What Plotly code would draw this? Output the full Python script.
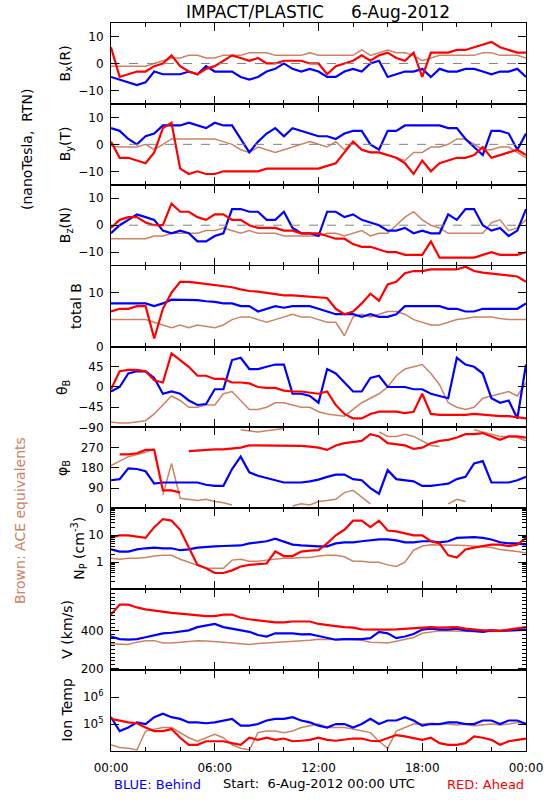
import plotly.graph_objects as go
from plotly.subplots import make_subplots

# ---------------- data (half-hour samples, 6-Aug-2012 00:00 .. 24:00 UTC) ----------------
HOURS = [0.5 * i for i in range(49)]
X_TICKS = [0, 6, 12, 18, 24]
X_TICK_LABELS = ["00:00", "06:00", "12:00", "18:00", "00:00"]

BX_BLUE = [-5, -6, -7, -8, -7, -3, -4, -4, -4, -3,
           -4, -1, -3, -3, -3, -5, -6, -5, -3, -2,
           0, -2, -3, -2, -3, -5, -5, -3, -2, -3,
           0, 1, -5, -4, -3, -3, -2, -5, -2, -3,
           -3, -2, -2, -3, -4, -3, -3, -2, -5]
BX_RED = [6, -5, -4, -3, -3, -1, 0, 3, -1, -3,
          -4, -2, -1, 1, 3, 2, 1, 2, 0, 0,
          1, 1, 1, 0, 0, -4, -1, 0, 1, 3,
          1, 3, 4, 2, 1, 4, -5, 4, 4, 4,
          5, 5, 6, 7, 8, 6, 5, 4, 4]
BX_BROWN = [-1, -1, -1, -1, -1, 0, 1, 2, 2, 3,
            3, 2, 2, 3, 3, 3, 4, 4, 4, 3,
            3, 3, 3, 4, 3, 3, 3, 3, 3, 5,
            3, 4, 5, 4, 4, 3, 1, 2, 3, 3,
            3, 3, 3, 4, 4, 3, 3, 3, 2]

BY_BLUE = [6, 5, 2, 0, 3, 4, 7, 7, 7, 8,
           7, 6, 8, 7, 7, 2, -3, 1, 4, 6,
           3, 6, 5, 4, 3, 3, 2, 4, 5, 5,
           0, -2, 5, 5, 7, 7, 7, 7, 7, 6,
           6, 2, -1, -4, 5, 5, 4, -2, 4]
BY_RED = [1, -5, -5, -6, -7, -3, 6, 8, -9, -11,
          -10, -11, -11, -10, -10, -10, -10, -10, -9, -9,
          -9, -9, -9, -9, -9, -8, -7, -3, 1, -2,
          -3, -3, -4, -5, -7, -11, -6, -10, -7, -6,
          -5, -5, -4, -1, -5, -4, -3, -2, -4]
BY_BROWN = [-0.5, -1, -1, -1, 0, -2, 0, 2, 2, 2,
            2, 2, 2, 1, 0, -2, -3, -1, -2, -3,
            -2, -1, 0, 1, 0, -1, 1, -2, 1, -2,
            -3, -3, -4, -5, -6, -3, -3, -1, -1, 0,
            2, 2, 0, -2, -2, -1, -1, -3, -5]

BZ_BLUE = [-3, 0, 2, 4, 3, 2, -2, -3, -2, -3,
           -6, -6, -4, -3, 6, 6, 5, 5, 2, 2,
           5, -1, -3, -3, -4, 5, 5, 3, 4, 2,
           1, 0, -2, -2, -1, -3, -2, -3, -3, 4,
           2, 6, 6, 0, -2, -1, -4, -2, 6]
BZ_RED = [-1, 2, 3, 3, 1, 0, 0, 8, 5, 5,
          3, 2, 4, 4, 2, 2, 0, -1, -1, -1,
          -2, -2, -3, -3, -3, -4, -5, -5, -7, -8,
          -8, -9, -10, -10, -11, -11, -11, -6, -12, -12,
          -12, -12, -12, -11, -10, -11, -11, -11, -10]
BZ_BROWN = [-5, -5, -5, -5, -5, -4, -4, -3, -3, -3,
            -3, -2, -2, -1, -2, -3, -2, -3, -3, -3,
            -4, -4, -4, -4, -4, -3, -3, -4, -3, -2,
            -4, -3, -3, 0, 3, 5, 2, 0, -1, -3,
            -3, -3, -3, -3, 1, 2, -2, -1, 2]

TOTB_BLUE = [8, 8, 8, 8, 8, 7.5, 8, 8.7, 8.7, 8.6,
             8.6, 8.4, 8.3, 8, 8, 7.5, 7.5, 6.5, 7, 7.5,
             7.2, 7.5, 7.5, 7.5, 7, 6.5, 6, 6, 6, 5.5,
             6, 5.5, 5.5, 6, 7.5, 7.5, 7.5, 7.5, 7.5, 7,
             7, 6.5, 6.5, 7, 7, 7, 7, 7, 8]
TOTB_RED = [6.5, 7, 7, 7.5, 7.5, 1.5, 7, 10, 12, 12,
            11.8, 11.6, 11.5, 11.3, 11, 10.6, 10.3, 10.2, 10, 9.7,
            9.5, 9.5, 9.4, 9.3, 9.2, 9, 7, 6, 6.5, 8,
            9.8, 8.5, 11.5, 12, 13.6, 14, 14, 14.3, 14.3, 14.3,
            14.3, 14.8, 14, 13.7, 13.5, 13.3, 13.2, 13, 12]
TOTB_BROWN = [5, 5, 5, 5, 5, 4.5, 4, 3.5, 4, 3.5,
              4, 3.8, 3.5, 4, 5, 5.5, 5.5, 5, 4.5, 5,
              5.5, 6, 5.5, 5.5, 5, 4.5, 4.5, 2, 5.5, 6,
              5.5, 6, 6.5, 6.5, 6, 5, 4.5, 4, 4, 4.5,
              5, 5.2, 5.5, 5.5, 5.5, 5.2, 5, 5, 5]

THETA_BLUE = [-10, 0, 30, 35, 35, 20, -15, -10, -15, -30,
              -40, -38, -5, -5, 60, 65, 40, 40, 45, 50,
              50, -15, -15, -20, -35, 40, 30, 10, -10, -10,
              20, 25, 0, 0, 0, -5, -5, -15, -20, -25,
              65, 50, 45, 30, -25, -35, -30, -70, 50]
THETA_RED = [-5, 35, 38, 38, 35, 15, 10, 75, 60, 45,
             25, 25, 18, 18, 10, 10, 8, 0, -2, -2,
             -8, -10, -10, -12, -15, -10, -40, -60, -70, -70,
             -60, -55, -55, -55, -58, -55, -15, -60, -62, -62,
             -62, -62, -60, -62, -63, -65, -65, -68, -70]
THETA_BROWN = [-78, -80, -80, -78, -75, -60, -40, -20, -30, -45,
               -45, -40, -40, -15, -10, -30, -50, -50, -45, -35,
               -35, -40, -45, -45, -55, -60, -62, -65, -50, -35,
               -25, -15, 0, 25, 40, 45, 50, 30, 5, -35,
               -45, -50, -45, -25, -20, -15, -10, -20, 10]

PHI_BLUE = [125, 130, 178, 175, 165, 110, 115, 115, 115, 115,
            115, 105, 100, 100, 175, 230, 160, 145, 135, 125,
            115, 115, 115, 120, 128, 140, 150, 150, 130, 125,
            90, 65, 170, 130, 125, 120, 100, 100, 105, 110,
            130, 140, 200, 210, 115, 115, 115, 125, 140]
PHI_RED = [30, 240, 240, 245, 260, 260, 80, 80, 70, 255,
           258, 260, 262, 262, 265, 270, 280, 280, 280, 280,
           280, 278, 278, 275, 270, 260, 280, 290, 295, 300,
           330, 320, 290, 285, 280, 265, 270, 290, 300, 305,
           315, 330, 330, 335, 320, 305, 320, 320, 315]
PHI_BROWN = [190, 210, 230, 240, 250, 265, 60, 200, 45, 40,
             35, 40, 30, 25, 15, 350, 345, 340, 345, 350,
             355, 10, 20, 15, 30, 35, 40, 70, 80, 50,
             20, 340, 320, 320, 330, 320, 300, 280, 275, 20,
             40, 30, 350, 340, 330, 320, 320, 315, 300]

NP_BLUE = [3, 2.5, 2.5, 3, 3.3, 3.5, 3.3, 3.3, 2.8, 3,
           3.5, 3.8, 3.9, 4, 4, 4.2, 5, 5.5, 6, 7.5,
           6, 4.5, 4.2, 4, 3.9, 3.9, 5, 5.5, 5.5, 6,
           6.5, 7, 7, 6.5, 5.5, 5.5, 6, 6, 5.5, 6,
           8, 8.5, 8.5, 8, 7, 5.5, 5, 5, 4.5]
NP_RED = [8, 10, 10, 9, 8, 20, 40, 35, 16, 3.5,
          0.8, 0.6, 0.4, 0.4, 0.5, 0.7, 0.8, 0.85, 0.9, 2.5,
          1.7, 1.7, 2.5, 2.7, 2.8, 5, 10, 16, 35, 35,
          20, 35, 15, 14, 12, 10, 10, 6, 5, 1.8,
          1.5, 3, 3.5, 4, 4.5, 4.5, 4, 4.5, 8]
NP_BROWN = [1.4, 1.3, 1.4, 1.4, 1.5, 1.7, 1.8, 1.8, 1.3, 1.0,
            0.8, 0.6, 0.6, 0.6, 1.2, 1.3, 1.1, 1.1, 1.2, 1.3,
            1.4, 1.4, 1.5, 1.5, 1.7, 1.8, 1.8, 1.6, 1.1, 1.1,
            1.0, 1.0, 0.8, 0.7, 1.0, 2.8, 4, 4.5, 4.5, 4.5,
            4.3, 4.2, 4, 3.8, 3.5, 3, 2.8, 2.5, 2.2]

V_BLUE = [370, 356, 353, 356, 366, 378, 387, 390, 395, 403,
          420, 429, 437, 420, 412, 407, 395, 378, 370, 387,
          387, 387, 381, 383, 373, 361, 353, 356, 356, 356,
          361, 395, 387, 361, 370, 383, 407, 412, 407, 407,
          412, 403, 400, 395, 403, 400, 403, 403, 407]
V_RED = [487, 540, 540, 525, 515, 508, 500, 496, 492, 487,
         482, 479, 479, 487, 487, 470, 462, 457, 450, 445,
         445, 450, 450, 450, 437, 429, 425, 420, 417, 408,
         407, 407, 407, 408, 412, 412, 420, 420, 417, 420,
         420, 412, 407, 403, 403, 400, 407, 412, 420]
V_BROWN = [331, 330, 328, 340, 348, 348, 336, 336, 340, 345,
           348, 346, 345, 340, 336, 332, 328, 333, 336, 338,
           340, 342, 345, 350, 356, 356, 356, 355, 353, 350,
           340, 338, 336, 345, 356, 365, 387, 395, 400, 400,
           400, 398, 395, 395, 395, 398, 400, 402, 403]

TEMP_BLUE = [1.8e5, 5.5e4, 7.4e4, 1.15e5, 1.0e5, 1.8e5, 2.4e5, 1.8e5, 1.55e5, 1.15e5,
             1.15e5, 1.07e5, 1.15e5, 1.35e5, 1.55e5, 8.7e4, 8.7e4, 1.0e5, 1.35e5, 1.55e5,
             1.55e5, 1.8e5, 1.35e5, 1.15e5, 8.7e4, 7.4e4, 1.0e5, 1.0e5, 7.4e4, 1.0e5,
             1.55e5, 1.0e5, 1.35e5, 1.35e5, 1.8e5, 1.35e5, 8.7e4, 1.0e5, 1.0e5, 1.15e5,
             1.15e5, 1.0e5, 1.0e5, 1.35e5, 1.35e5, 1.0e5, 1.35e5, 1.35e5, 1.0e5]
TEMP_RED = [1.55e5, 1.35e5, 1.15e5, 1.07e5, 7.4e4, 5.5e4, 5.5e4, 6.5e4, 3.1e4, 1.7e4,
            1.7e4, 2.3e4, 2.3e4, 2.3e4, 1.95e4, 1.7e4, 3.1e4, 2.6e4, 3.1e4, 2.6e4,
            2.9e4, 2.3e4, 2.4e4, 2.6e4, 3.1e4, 2.6e4, 2.4e4, 2.6e4, 2.9e4, 2.9e4,
            2.4e4, 2.3e4, 3.1e4, 3.9e4, 3.5e4, 3.1e4, 2.6e4, 3.1e4, 1.95e4, 1.7e4,
            1.7e4, 1.95e4, 3.5e4, 3.1e4, 2.6e4, 1.7e4, 2.3e4, 2.6e4, 2.9e4]
TEMP_BROWN = [1.7e4, 1.35e4, 1.26e4, 1.1e4, 5.5e4, 6.5e4, 7.4e4, 7.4e4, 4.8e4, 3.1e4,
              2.3e4, 3.1e4, 4.2e4, 3.1e4, 1.7e4, 1.26e4, 1.1e4, 4.8e4, 5.5e4, 5.5e4,
              4.8e4, 5.5e4, 7.4e4, 8.7e4, 1.0e5, 7.4e4, 7.4e4, 7.4e4, 6.5e4, 5.5e4,
              4.8e4, 2.3e4, 1.26e4, 5.5e4, 7.4e4, 1.0e5, 1.0e5, 1.07e5, 1.0e5, 1.0e5,
              9.3e4, 1.0e5, 8.7e4, 9.3e4, 1.0e5, 9.3e4, 1.0e5, 1.15e5, 9.3e4]

# ---------------- styling ----------------
BLUE = "#0000FF"
RED = "#FF0000"
BROWN = "#CD8264"
FONT = "DejaVu Sans"

# plot-area edges in page pixels (page body margin is removed below)
L_PX, R_PX, T_PX, B_PX = 111, 526, 23, 751
W, H = 550, 800


def px_to_paper_x(px):
    return (px - L_PX) / (R_PX - L_PX)


def px_to_paper_y(py):
    return (B_PX - py) / (B_PX - T_PX)


def split_wrap(x, y, limit=180):
    xs, ys = [], []
    for i, (a, b) in enumerate(zip(x, y)):
        if i and abs(b - y[i - 1]) > limit:
            xs.append(None)
            ys.append(None)
        xs.append(a)
        ys.append(b)
    return xs, ys


def log_minor(lo, hi):
    vals = []
    d = 10.0 ** lo
    while d < 10.0 ** hi:
        for m in range(2, 10):
            vals.append(m * d)
        d *= 10
    return vals


PANELS = [
    dict(series=(BX_BROWN, BX_BLUE, BX_RED), range=[-15, 15], tickvals=[-10, 0, 10],
         zero=True, label="B<sub>x</sub>(R)", lx=66),
    dict(series=(BY_BROWN, BY_BLUE, BY_RED), range=[-15, 15], tickvals=[-10, 0, 10],
         zero=True, label="B<sub>y</sub>(T)", lx=66),
    dict(series=(BZ_BROWN, BZ_BLUE, BZ_RED), range=[-15, 15], tickvals=[-10, 0, 10],
         zero=True, label="B<sub>z</sub>(N)", lx=66),
    dict(series=(TOTB_BROWN, TOTB_BLUE, TOTB_RED), range=[0, 15], tickvals=[0, 10],
         label="total B", lx=76),
    dict(series=(THETA_BROWN, THETA_BLUE, THETA_RED), range=[-90, 90],
         tickvals=[-90, -45, 0, 45], label="θ<sub>B</sub>", lx=63),
    dict(series=(PHI_BROWN, PHI_BLUE, PHI_RED), range=[0, 360],
         tickvals=[0, 90, 180, 270], label="φ<sub>B</sub>", lx=63, wrap=True),
    dict(series=(NP_BROWN, NP_BLUE, NP_RED), range=[-1, 2], log=True,
         tickvals=[1, 10], ticktext=["1", "10"], minor=log_minor(-1, 2),
         label="N<sub>P</sub> (cm<sup>-3</sup>)", lx=79),
    dict(series=(V_BROWN, V_BLUE, V_RED), range=[191, 622], tickvals=[200, 400],
         minor=[v for v in range(200, 621, 20) if v not in (200, 400)],
         label="V (km/s)", lx=67),
    dict(series=(TEMP_BROWN, TEMP_BLUE, TEMP_RED), range=[4, 7], log=True,
         tickvals=[1e5, 1e6], ticktext=["10<sup>5</sup>", "10<sup>6</sup>"],
         label="Ion Temp", lx=67),
]

N = len(PANELS)
fig = make_subplots(rows=N, cols=1, shared_xaxes=True, vertical_spacing=0)

for r, p in enumerate(PANELS, start=1):
    brown, blue, red = p["series"]
    for ys, col, wd in ((brown, BROWN, 1.5), (blue, BLUE, 2.2), (red, RED, 2.2)):
        if p.get("wrap"):
            xx, yy = split_wrap(HOURS, ys)
        else:
            xx, yy = HOURS, ys
        fig.add_trace(go.Scatter(x=xx, y=yy, mode="lines", connectgaps=False,
                                 line=dict(color=col, width=wd), showlegend=False,
                                 hoverinfo="skip"), row=r, col=1)
    if p.get("zero"):
        fig.add_trace(go.Scatter(x=[0, 24], y=[0, 0], mode="lines",
                                 line=dict(color="#808080", width=1, dash="dash"),
                                 showlegend=False, hoverinfo="skip"), row=r, col=1)

    yax = dict(range=p["range"], tickmode="array", tickvals=p["tickvals"],
               ticks="inside", ticklen=8, tickwidth=1, tickcolor="black",
               showline=True, linecolor="black", linewidth=1, mirror="allticks",
               showgrid=False, zeroline=False, ticklabelstandoff=4,
               tickfont=dict(family=FONT, size=12, color="black"))
    if p.get("log"):
        yax["type"] = "log"
    if "ticktext" in p:
        yax["ticktext"] = p["ticktext"]
    if "minor" in p:
        yax["minor"] = dict(tickmode="array", tickvals=p["minor"], ticks="inside",
                            ticklen=4, tickcolor="black", showgrid=False)
    fig.update_yaxes(row=r, col=1, **yax)

    fig.update_xaxes(row=r, col=1, range=[0, 24], tickmode="array", tickvals=X_TICKS,
                     ticktext=X_TICK_LABELS, ticks="inside", ticklen=8, tickwidth=1,
                     tickcolor="black", showline=True, linecolor="black", linewidth=1,
                     mirror="allticks", showgrid=False, zeroline=False,
                     minor=dict(tickmode="array", tickvals=[2, 4, 8, 10, 14, 16, 20, 22],
                                ticks="inside", ticklen=4, tickcolor="black",
                                showgrid=False),
                     showticklabels=(r == N), ticklabelstandoff=6,
                     tickfont=dict(family=FONT, size=12, color="black"))

    yc = (N - r + 0.5) / N
    fig.add_annotation(text=p["label"], xref="paper", yref="paper",
                       x=px_to_paper_x(p["lx"]), y=yc, xanchor="center", yanchor="middle",
                       textangle=-90, showarrow=False,
                       font=dict(family=FONT, size=14, color="black"))

NB = "\u00a0"
texts = [
    ("IMPACT/PLASTIC" + NB * 5 + "6-Aug-2012", 318, 12, "center", "black", 17, 0),
    ("(nanoTesla," + NB * 2 + "RTN)", 27, 150, "center", "black", 14, -90),
    ("Brown:" + NB + "ACE equivalents", 20, 521, "center", BROWN, 14, -90),
    ("BLUE:" + NB + "Behind", 112, 784, "left", BLUE, 13, 0),
    ("Start:" + NB * 2 + "6-Aug-2012 00:00 UTC", 319, 783, "center", "black", 13, 0),
    ("RED:" + NB + "Ahead", 526, 784, "right", RED, 13, 0),
]
for txt, xp, yp, anc, col, sz, ang in texts:
    fig.add_annotation(text=txt, xref="paper", yref="paper",
                       x=px_to_paper_x(xp), y=px_to_paper_y(yp),
                       xanchor=anc, yanchor="middle", textangle=ang, showarrow=False,
                       font=dict(family=FONT, size=sz, color=col))

fig.update_layout(width=W, height=H, plot_bgcolor="white", paper_bgcolor="white",
                  margin=dict(l=L_PX, r=W - R_PX, t=T_PX, b=H - B_PX, autoexpand=False),
                  showlegend=False, font=dict(family=FONT, color="black"))

fig.write_html("out.html",
               config={"displayModeBar": False, "staticPlot": True},
               post_script="document.body.style.margin='0';"
                           "document.body.style.overflow='hidden';")
